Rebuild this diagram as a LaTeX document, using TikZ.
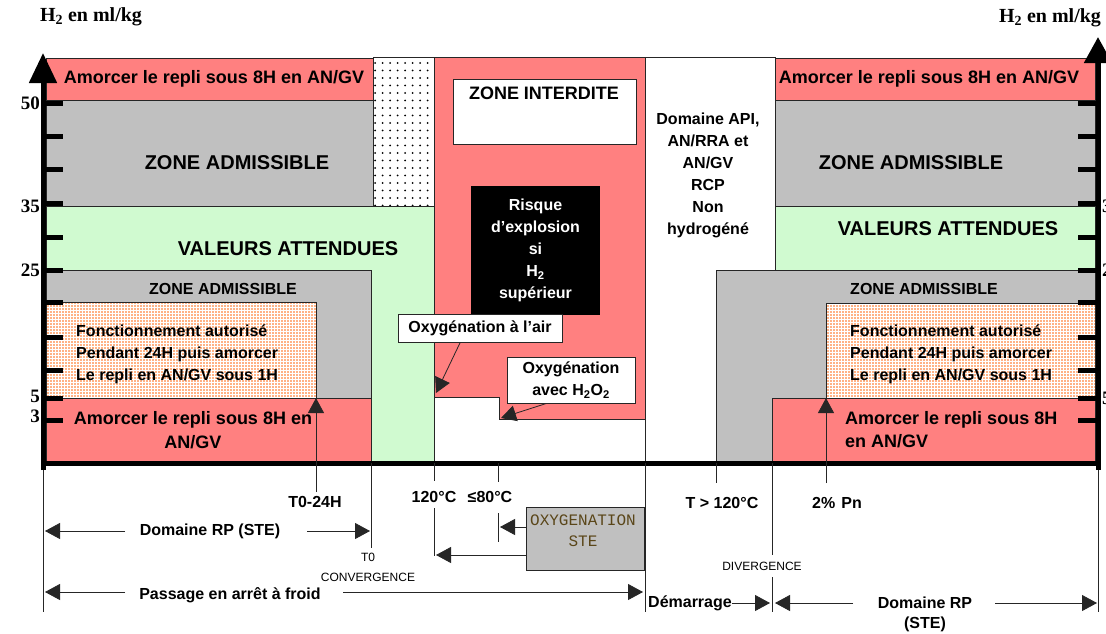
\documentclass[tikz,border=0pt]{standalone}
\usepackage{fontspec}
\setmainfont{Liberation Sans}
\newfontfamily\timesfont{Liberation Serif}
\newfontfamily\courfont{Liberation Mono}
\usetikzlibrary{arrows.meta,patterns.meta,calc}
\definecolor{zred}{RGB}{255,128,128}
\definecolor{zgrey}{RGB}{192,192,192}
\definecolor{zgreen}{RGB}{208,250,208}
\definecolor{zorange}{RGB}{255,100,10}
\definecolor{oxytxt}{RGB}{90,70,25}
\newcommand{\myfs}[2]{\fontsize{#1}{#2}\selectfont}
\begin{document}
\begin{tikzpicture}[x=1pt,y=-1pt,
  edge/.style={draw=black!85,line width=0.8pt},
  rule/.style={draw=black!85,line width=0.8pt},
  arr/.style={rule,-{Triangle[length=15pt,width=16pt]}},
  redzone/.style={fill=zred,edge},
  greyzone/.style={fill=zgrey,edge},
  greenzone/.style={fill=zgreen,edge},
  orangezone/.style={edge,preaction={fill=white},pattern={Dots[distance=3pt,radius=0.95pt]},pattern color=zorange},
  dotzone/.style={edge,preaction={fill=white},pattern={Dots[distance=7.5pt,radius=1pt]},pattern color=black},
  axis/.style={line width=5pt,draw=black},
  band/.style={font={\myfs{18}{23}\bfseries},inner sep=0pt,align=center},
  big/.style={font={\myfs{20}{24}\bfseries},inner sep=0pt},
  lab/.style={font={\myfs{16}{22}\bfseries},inner sep=0pt,align=center},
  small/.style={font={\myfs{12}{20}},inner sep=0pt,align=center},
  ticklab/.style={font={\timesfont\bfseries\myfs{19}{20}},inner sep=0pt},
  box/.style={draw=black!85,line width=0.8pt,fill=white,inner sep=0pt},
]
\fill[white] (0,0) rectangle (1106,633);
\useasboundingbox (0,0) rectangle (1106,633);

% ---------- coloured zones ----------
\path[fill=white,edge] (645,57) rectangle (775,463);
\path[greenzone] (46,206) rectangle (434,463);
\path[redzone] (46,58) rectangle (373,100);
\path[greyzone] (46,100) rectangle (373,206);
\path[dotzone] (373,57) rectangle (434,206);
\path[redzone] (434,57) -- (645,57) -- (645,419) -- (499,419) -- (499,397) -- (434,397) -- cycle;
\path[greyzone] (46,270) rectangle (371,398);
\path[orangezone] (46,302) rectangle (316,398);
\path[redzone] (46,398) rectangle (371,463);

\path[redzone] (775,58) rectangle (1095,100);
\path[greyzone] (775,100) rectangle (1095,206);
\path[greenzone] (775,206) rectangle (1095,270);
\path[greyzone] (716,270) rectangle (1095,463);
\path[orangezone] (826,303) rectangle (1095,398);
\path[redzone] (772,398) rectangle (1095,463);

% ---------- boxes ----------
\node[box,minimum width=183pt,minimum height=65pt] (zibox) at (544.5,111.5) {};
\node[font={\myfs{18}{22}\bfseries},inner sep=0pt] (zitxt) at (544,93) {ZONE INTERDITE};
\node[fill=black,text=white,minimum width=129pt,minimum height=129pt,inner sep=0pt,align=center,font={\myfs{16}{22}\bfseries}] (risk) at (535.5,250.5) {Risque\\d’explosion\\si\\H\textsubscript{2}\\supérieur};
\node[box,lab,minimum width=164pt,minimum height=28pt] (oxair) at (480,328) {Oxygénation à l’air};
\node[box,lab,minimum width=128pt,minimum height=46pt] (oxh) at (571,380) {Oxygénation\\avec H\textsubscript{2}O\textsubscript{2}};
\node[box,fill=zgrey,minimum width=118pt,minimum height=63pt] (oxy) at (585,538.5) {};
\node[font={\courfont\myfs{16}{21}},text=oxytxt,align=center,inner sep=0pt] (oxytxt) at (583,530.5) {OXYGENATION\\STE};

% ---------- axes ----------
\draw[axis,-{Triangle[length=30pt,width=27pt]}] (43,470) -- (43,53);
\draw[axis,-{Triangle[length=26pt,width=27pt]}] (1098,470) -- (1098,37);
\draw[axis] (41,463) -- (1100,463);
\foreach \yy in {103,136,169,203,237,270,302,337,370,398,420}{
  \draw[axis] (43,\yy) -- (63,\yy);
  \draw[axis] (1078,\yy) -- (1098,\yy);
}
\node[ticklab,anchor=east] (l50) at (40,103) {50};
\node[ticklab,anchor=east] (l35) at (40,206) {35};
\node[ticklab,anchor=east] (l25) at (40,270) {25};
\node[ticklab,anchor=east] (l5) at (40,396) {5};
\node[ticklab,anchor=east] (l3) at (40,416) {3};
\node[ticklab,anchor=west] (r35) at (1102,206) {35};
\node[ticklab,anchor=west] (r25) at (1102,270) {25};
\node[ticklab,anchor=west] (r5) at (1102,398) {5};
\node[font={\timesfont\bfseries\myfs{20}{24}},inner sep=0pt] (h2l) at (91,17) {H\textsubscript{2} en ml/kg};
\node[font={\timesfont\bfseries\myfs{20}{24}},inner sep=0pt] (h2r) at (1050,18) {H\textsubscript{2} en ml/kg};

% ---------- thin lines below the axis ----------
\draw[rule] (43,470) -- (43,612);
\draw[rule] (1098,470) -- (1098,612);
\draw[rule] (371,463) -- (371,548);
\draw[rule] (434,463) -- (434,481);
\draw[rule] (434,508) -- (434,556);
\draw[rule] (498,463) -- (498,482);
\draw[rule] (498,513) -- (498,542);
\draw[rule] (645,463) -- (645,612);
\draw[rule] (716,463) -- (716,483);
\draw[rule] (772,463) -- (772,555);
\draw[rule] (772,577) -- (772,612);

% ---------- arrows ----------
\coordinate (t24b) at (316,492);
\coordinate (t24t) at (316,398);
\draw[arr] (t24b) -- (t24t);
\coordinate (pnb) at (826,483);
\coordinate (pnt) at (826,398);
\draw[arr] (pnb) -- (pnt);

\coordinate (airtip) at (436,393);
\draw[arr] ($(oxair.south west)!0.38!(oxair.south east)$) -- (airtip);
\coordinate (h2otip) at (501,418);
\draw[arr] ($(oxh.south west)!0.31!(oxh.south east)$) -- (h2otip);

\coordinate (e80) at (500,527);
\draw[arr] (oxy.west |- e80) -- (e80);
\coordinate (e120) at (436,555);
\draw[arr] (oxy.west |- e120) -- (e120);

% Domaine RP (STE) left
\node[lab] (drpl) at (210,531) {Domaine RP (STE)};
\coordinate (drpl1) at (125,531);
\coordinate (drpl2) at (45,531);
\coordinate (drpl3) at (307,531);
\coordinate (drpl4) at (370,531);
\draw[arr] (drpl1) -- (drpl2);
\draw[arr] (drpl3) -- (drpl4);

% Passage en arret a froid
\node[lab] (paf) at (230,595) {Passage en arrêt à froid};
\coordinate (paf1) at (125,592);
\coordinate (paf2) at (45,592);
\coordinate (paf3) at (343,592);
\coordinate (paf4) at (643,592);
\draw[arr] (paf1) -- (paf2);
\draw[arr] (paf3) -- (paf4);

% Demarrage
\node[lab] (dem) at (690,603) {Démarrage};
\coordinate (dem1) at (770,603);
\draw[arr] (dem.east) -- (dem1);

% Domaine RP right
\node[lab] (drpr) at (925,603) {Domaine RP};
\node[lab] (ster) at (925,624) {(STE)};
\coordinate (drpr1) at (853,603);
\coordinate (drpr2) at (775,603);
\coordinate (drpr3) at (995,603);
\coordinate (drpr4) at (1097,603);
\draw[arr] (drpr1) -- (drpr2);
\draw[arr] (drpr3) -- (drpr4);

% ---------- texts in zones ----------
\node[band] (tl1) at (214,79) {Amorcer le repli sous 8H en AN/GV};
\node[band] (tr1) at (929,79) {Amorcer le repli sous 8H en AN/GV};
\node[big] (za1) at (237,163) {ZONE ADMISSIBLE};
\node[big] (za2) at (911,163) {ZONE ADMISSIBLE};
\node[big] (va1) at (288,249) {VALEURS ATTENDUES};
\node[big] (va2) at (948,229) {VALEURS ATTENDUES};
\node[lab] (za3) at (223,289) {ZONE ADMISSIBLE};
\node[lab] (za4) at (924,289) {ZONE ADMISSIBLE};
\node[lab,align=left,anchor=west] (fa1) at (76,354) {Fonctionnement autorisé\\Pendant 24H puis amorcer\\Le repli en AN/GV sous 1H};
\node[lab,align=left,anchor=west] (fa2) at (850,354) {Fonctionnement autorisé\\Pendant 24H puis amorcer\\Le repli en AN/GV sous 1H};
\node[band,font={\myfs{18}{24}\bfseries}] (bl1) at (193,430) {Amorcer le repli sous 8H en\\AN/GV};
\node[band,font={\myfs{18}{23}\bfseries},align=left,anchor=west] (br1) at (845,429.5) {Amorcer le repli sous 8H\\en AN/GV};
\node[lab] (api) at (708,175) {Domaine API,\\AN/RRA et\\AN/GV\\RCP\\Non\\hydrogéné};

% ---------- labels below the axis ----------
\node[lab] (t024) at (315,502) {T0-24H};
\node[lab] (t120) at (434,497) {120°C};
\node[lab] (t80) at (490,497) {≤80°C};
\node[lab] (tg120) at (722,503) {T > 120°C};
\node[lab] (pn) at (837,503) {2\%\hspace{6pt}Pn};
\node[small] (conv) at (368,567) {T0\\CONVERGENCE};
\node[small] (div) at (762,566) {DIVERGENCE};
\end{tikzpicture}
\end{document}
